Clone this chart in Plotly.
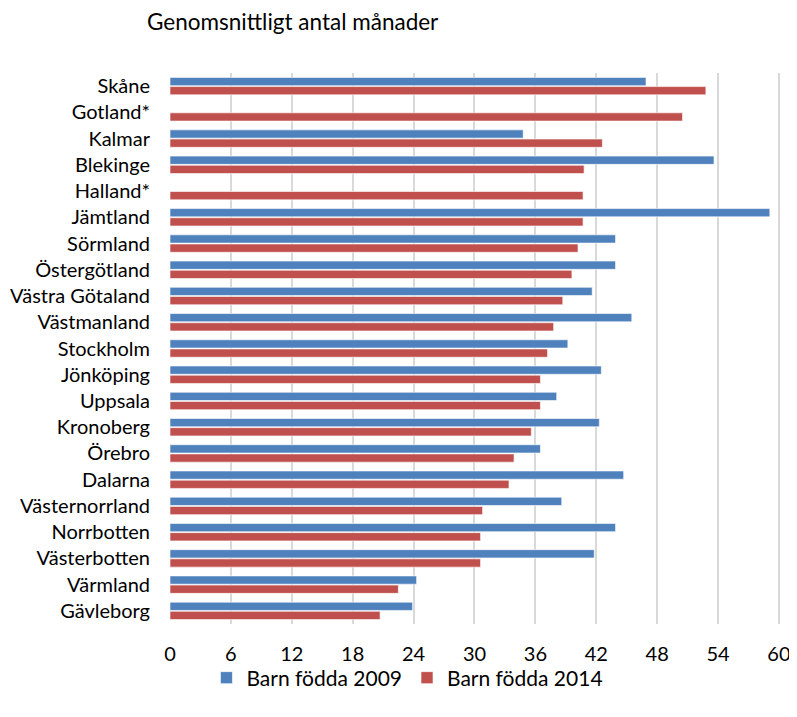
import plotly.graph_objects as go

categories = ["Skåne", "Gotland*", "Kalmar", "Blekinge", "Halland*", "Jämtland", "Sörmland",
              "Östergötland", "Västra Götaland", "Västmanland", "Stockholm", "Jönköping",
              "Uppsala", "Kronoberg", "Örebro", "Dalarna", "Västernorrland", "Norrbotten",
              "Västerbotten", "Värmland", "Gävleborg"]
barn_2009 = [46.9, None, 34.8, 53.6, None, 59.1, 43.9, 43.9, 41.6, 45.5, 39.2, 42.5,
             38.1, 42.3, 36.5, 44.7, 38.6, 43.9, 41.8, 24.3, 23.9]
barn_2014 = [52.8, 50.5, 42.6, 40.8, 40.7, 40.7, 40.2, 39.6, 38.7, 37.8, 37.2, 36.5,
             36.5, 35.6, 33.9, 33.4, 30.8, 30.6, 30.6, 22.5, 20.7]
x_ticks = [0, 6, 12, 18, 24, 30, 36, 42, 48, 54, 60]

FONT = "Lato, 'Open Sans', sans-serif"

fig = go.Figure()
fig.add_trace(go.Bar(y=categories, x=barn_2009, orientation="h", name="Barn födda 2009",
                     marker=dict(color="#4F81BD", line=dict(color="rgba(255,255,255,0.6)", width=1))))
fig.add_trace(go.Bar(y=categories, x=barn_2014, orientation="h", name="Barn födda 2014",
                     marker=dict(color="#C0504D", line=dict(color="rgba(255,255,255,0.6)", width=1))))

fig.update_layout(
    width=789, height=709,
    margin=dict(l=162, r=15, t=65, b=93),
    paper_bgcolor="white", plot_bgcolor="white",
    barmode="group", bargap=0.3, bargroupgap=0.1,
    font=dict(family=FONT, size=20, color="#000000"),
    showlegend=True,
    legend=dict(orientation="h", x=0.388, xanchor="center", y=-0.098, yanchor="middle",
                font=dict(size=21), itemwidth=30, traceorder="normal",
                bgcolor="rgba(0,0,0,0)"),
    annotations=[dict(text="Genomsnittligt antal månader", xref="paper", yref="paper",
                      x=-0.041, y=1.0926, xanchor="left", yanchor="middle", showarrow=False,
                      font=dict(size=22.5, family=FONT))],
)
fig.update_xaxes(range=[0, 60.3], tickvals=x_ticks, showgrid=True, gridcolor="#D9D9D9",
                 gridwidth=2, zeroline=False, showline=False, ticks="", automargin=False,
                 ticklabelstandoff=16, tickfont=dict(size=20))
fig.update_yaxes(autorange="reversed", showgrid=False, showline=False, ticks="", automargin=False,
                 ticklabelstandoff=19, tickfont=dict(size=20))

fig.write_html("out.html")
